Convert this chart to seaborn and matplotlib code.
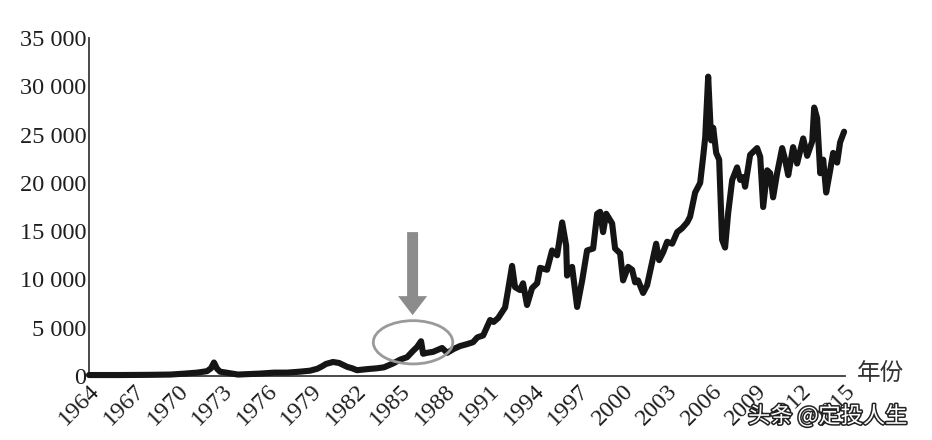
import matplotlib
matplotlib.use("Agg")
import matplotlib.pyplot as plt
import matplotlib.patheffects as pe
from matplotlib.patches import Ellipse, FancyArrow
from matplotlib.ticker import FuncFormatter
import seaborn as sns
import pandas as pd

# ---- data ----
years = [1964.0, 1966.0, 1968.0, 1969.5, 1970.48, 1971.3, 1971.96, 1972.23, 1972.43, 1972.64,
         1972.84, 1973.45, 1974.05, 1974.8, 1975.54, 1976.5, 1977.36, 1978.24, 1978.91, 1979.4,
         1979.72, 1979.99, 1980.46, 1980.87, 1981.41, 1981.75, 1982.08, 1982.69, 1983.43, 1983.9,
         1984.51, 1985.0, 1985.46, 1985.86, 1986.13, 1986.40, 1986.54, 1986.8, 1987.21, 1987.82,
         1988.16, 1988.6, 1989.03, 1989.5, 1989.91, 1990.2, 1990.59, 1991.06, 1991.3, 1991.60,
         1992.07, 1992.27, 1992.54, 1992.74, 1993.08, 1993.28, 1993.55, 1993.89, 1994.23, 1994.43,
         1994.90, 1995.24, 1995.58, 1995.92, 1996.19, 1996.25, 1996.59, 1996.93, 1997.27, 1997.60,
         1998.01, 1998.28, 1998.48, 1998.68, 1998.89, 1999.29, 1999.49, 1999.83, 2000.03, 2000.37,
         2000.64, 2000.84, 2001.04, 2001.38, 2001.65, 2001.99, 2002.26, 2002.46, 2002.73, 2003.00,
         2003.34, 2003.68, 2004.01, 2004.35, 2004.55, 2004.89, 2005.23, 2005.43, 2005.57, 2005.77,
         2005.97, 2006.11, 2006.31, 2006.51, 2006.71, 2006.91, 2007.12, 2007.39, 2007.72, 2007.93,
         2008.13, 2008.26, 2008.60, 2009.07, 2009.28, 2009.48, 2009.75, 2009.95, 2010.15, 2010.42,
         2010.76, 2010.96, 2011.17, 2011.50, 2011.77, 2012.18, 2012.45, 2012.79, 2012.92, 2013.12,
         2013.33, 2013.53, 2013.73, 2014.00, 2014.20, 2014.47, 2014.67, 2014.94]
index_values = [100, 100, 120, 150, 250, 350, 500, 800, 1400, 750,
                450, 300, 150, 200, 250, 350, 350, 450, 550, 750,
                1000, 1250, 1450, 1350, 950, 800, 600, 700, 800, 900,
                1300, 1700, 1950, 2600, 3000, 3600, 2300, 2400, 2500, 2900,
                2400, 2800, 3100, 3300, 3500, 4000, 4200, 5800, 5600, 6000,
                7100, 8900, 11400, 9200, 8900, 9600, 7350, 9100, 9600, 11200,
                11000, 13000, 12500, 15900, 13500, 10400, 11300, 7150, 9900, 13000,
                13200, 16800, 17000, 14900, 16800, 15800, 13200, 12700, 9900, 11300,
                11000, 9700, 9900, 8600, 9400, 11800, 13700, 12000, 12800, 13900,
                13700, 14900, 15300, 15900, 16500, 19000, 20000, 22700, 24700, 31000,
                24400, 25700, 23100, 22400, 14100, 13300, 16900, 20300, 21600, 20300,
                20600, 19600, 22900, 23600, 22700, 17500, 21300, 21000, 18500, 21000,
                23600, 22400, 20800, 23700, 22000, 24600, 22800, 24300, 27800, 26700,
                21000, 22400, 19000, 21300, 23100, 22100, 24200, 25300]
x_ticks = [1964, 1967, 1970, 1973, 1976, 1979, 1982, 1985, 1988, 1991,
           1994, 1997, 2000, 2003, 2006, 2009, 2012, 2015]
y_ticks = [0, 5000, 10000, 15000, 20000, 25000, 30000, 35000]
x_label = "年份"
watermark = "头条 @定投人生"

# ---- plot ----
sns.set_style("white")
plt.rcParams["font.family"] = ["Liberation Serif", "DejaVu Serif"]

fig = plt.figure(figsize=(9.32, 4.4), dpi=100)
ax = fig.add_axes([89 / 932, 1 - 376 / 440, (845 - 89) / 932, (376 - 38) / 440])

df = pd.DataFrame({"year": years, "value": index_values})
sns.lineplot(data=df, x="year", y="value", ax=ax, color="#151515", linewidth=4.4,
             solid_joinstyle="round", solid_capstyle="round", clip_on=False, zorder=3)

ax.set_xlim(1964, 2015)
ax.set_ylim(0, 35000)
ax.set_xticks(x_ticks)
ax.set_yticks(y_ticks)
ax.yaxis.set_major_formatter(FuncFormatter(lambda v, p: f"{int(v):,}".replace(",", " ")))
ax.set_xlabel("")
ax.set_ylabel("")

for s in ["top", "right"]:
    ax.spines[s].set_visible(False)
for s in ["left", "bottom"]:
    ax.spines[s].set_color("#3a3a3a")
    ax.spines[s].set_linewidth(1.3)

ax.tick_params(axis="both", direction="in", length=7, width=1.2, color="#3a3a3a",
               labelsize=17.5, labelcolor="#1e1e1e")
ax.tick_params(axis="y", pad=2)
ax.tick_params(axis="x", pad=3)
for lab in ax.get_xticklabels():
    lab.set_rotation(45)
    lab.set_ha("right")
    lab.set_va("top")
    lab.set_rotation_mode("anchor")

# annotation: ellipse and arrow
ell = Ellipse((1985.86, 3490), 5.36, 4480, fill=False, edgecolor="#9a9a9a", linewidth=2.0, zorder=4)
ax.add_patch(ell)
arr = FancyArrow(1985.83, 14900, 0, -8600, width=0.74, head_width=1.96, head_length=1970,
                 length_includes_head=True, color="#8c8c8c", linewidth=0, zorder=4)
ax.add_patch(arr)

# axis name
ax.text(1.016, 0.006, x_label, transform=ax.transAxes, ha="left", va="center",
        fontsize=17, color="#333333", family=["Noto Sans CJK SC", "DejaVu Sans"])

# watermark
fig.text(748 / 932, 1 - 416 / 440, watermark, ha="left", va="center", fontsize=16,
         color="white", family=["Noto Sans CJK SC", "DejaVu Sans"],
         path_effects=[pe.withStroke(linewidth=2.2, foreground="#222222")])

fig.savefig("out.png", dpi=100)
